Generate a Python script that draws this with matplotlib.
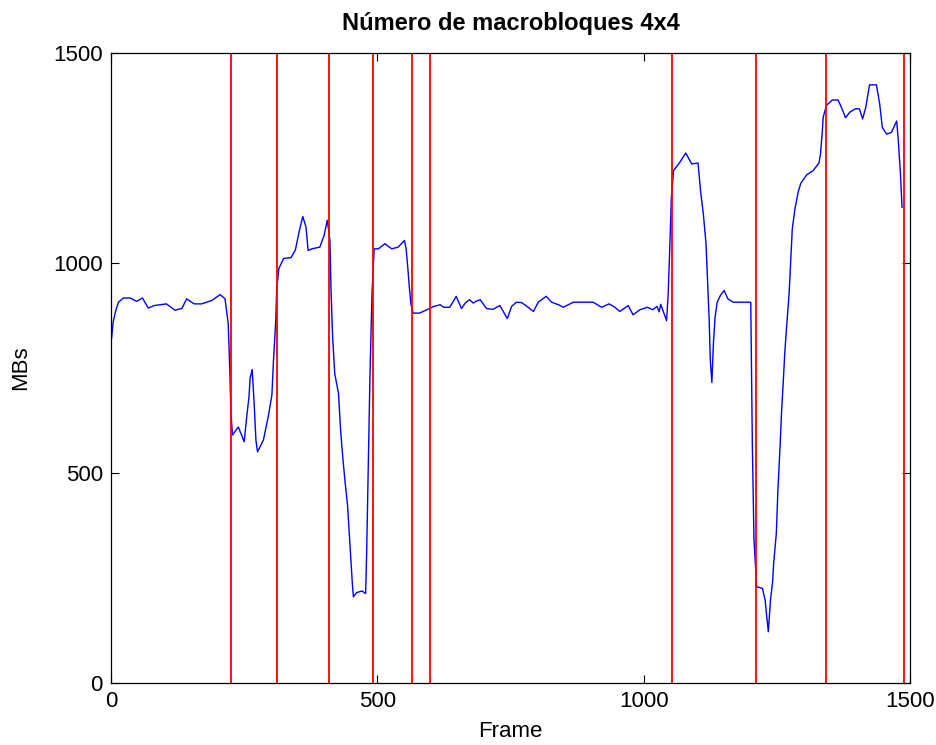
import matplotlib
matplotlib.use("Agg")
import matplotlib.pyplot as plt

# number of 4x4 macroblocks per frame
frames = [1, 4, 9, 14, 23, 36, 48, 59, 70, 81, 104, 120, 133, 142, 156, 170, 189, 205, 214,
          220, 223, 225, 228, 239, 245, 250, 255, 259, 261, 265, 269, 272, 275, 286, 295,
          302, 305, 309, 311, 315, 324, 338, 346, 353, 360, 366, 370, 377, 392, 400, 406,
          411, 413, 416, 420, 427, 431, 435, 439, 444, 447, 450, 453, 455, 461, 471, 478,
          480, 483, 486, 490, 494, 502, 514, 527, 539, 551, 554, 557, 560, 563, 567, 579,
          593, 606, 618, 624, 636, 648, 658, 665, 673, 680, 685, 693, 705, 717, 730, 744,
          752, 761, 771, 783, 793, 802, 817, 827, 840, 849, 868, 905, 921, 935, 946, 955,
          971, 980, 993, 1007, 1017, 1025, 1029, 1032, 1036, 1043, 1046, 1049, 1052, 1056,
          1068, 1079, 1090, 1102, 1107, 1112, 1117, 1120, 1123, 1125, 1128, 1131, 1134,
          1138, 1144, 1151, 1158, 1168, 1201, 1202, 1204, 1207, 1212, 1223, 1228, 1231,
          1234, 1238, 1242, 1244, 1249, 1252, 1256, 1259, 1262, 1265, 1269, 1273, 1276,
          1279, 1284, 1290, 1295, 1306, 1318, 1329, 1332, 1335, 1337, 1343, 1354, 1365,
          1371, 1379, 1387, 1397, 1405, 1411, 1417, 1424, 1437, 1443, 1448, 1456, 1465,
          1475, 1478, 1482, 1485]
mbs = [820, 859, 887, 906, 916, 916, 908, 916, 892, 898, 902, 887, 891, 914, 902, 902, 910, 924, 914,
       855, 744, 645, 590, 609, 590, 574, 637, 681, 724, 746, 657, 578, 550, 578, 633,
       685, 768, 855, 934, 986, 1010, 1012, 1030, 1073, 1110, 1085, 1029, 1033, 1037, 1065, 1101,
       1053, 934, 823, 736, 689, 601, 538, 483, 423, 360, 296, 237, 205, 215, 219, 213,
       316, 522, 724, 930, 1033, 1033, 1045, 1033, 1037, 1053, 1033, 990, 942, 902, 880, 880,
       888, 896, 900, 894, 894, 920, 891, 904, 912, 904, 908, 912, 891, 889, 898, 867,
       896, 906, 905, 894, 884, 906, 920, 906, 900, 894, 906, 906, 894, 902, 894, 884,
       898, 876, 888, 894, 888, 896, 883, 901, 887, 862, 926, 1037, 1156, 1219,
       1239, 1261, 1235, 1237, 1168, 1116, 1045, 954, 863, 768, 715, 811, 871,
       906, 922, 934, 914, 906, 906, 792, 566, 344, 229, 225, 197, 158,
       122, 197, 241, 285, 356, 459, 562, 649, 716, 788, 859, 926, 1002,
       1081, 1128, 1168, 1189, 1209, 1219, 1237, 1259, 1306, 1346, 1374, 1387, 1387,
       1370, 1345, 1358, 1366, 1366, 1342, 1370, 1423, 1423, 1378, 1322, 1306, 1310,
       1337, 1291, 1212, 1132]

# detected scene cuts
cuts = [225, 312, 410, 492, 565, 599, 1054, 1210, 1342, 1488]

plt.rcParams['font.family'] = ['Liberation Sans', 'DejaVu Sans']

fig = plt.figure(figsize=(9.37, 7.45), dpi=100)
ax = fig.add_axes([0.1185, 0.0832, 0.8527, 0.8463])

ax.plot(frames, mbs, color='#0000ff', lw=1.0)
for c in cuts:
    ax.axvline(c, color='#ff0000', lw=1.3)

ax.set_xlim(0, 1500)
ax.set_ylim(0, 1500)
ax.set_xticks([0, 500, 1000, 1500])
ax.set_yticks([0, 500, 1000, 1500])
ax.tick_params(direction='in', length=6, width=0.8, top=True, right=True,
               labelsize=16, pad=6)
for s in ax.spines.values():
    s.set_linewidth(0.9)

ax.set_title('Número de macrobloques 4x4', fontsize=17, fontweight='bold', pad=16)
ax.set_xlabel('Frame', fontsize=16, labelpad=6)
ax.set_ylabel('MBs', fontsize=16, labelpad=16)

fig.savefig('out.png', dpi=100)
